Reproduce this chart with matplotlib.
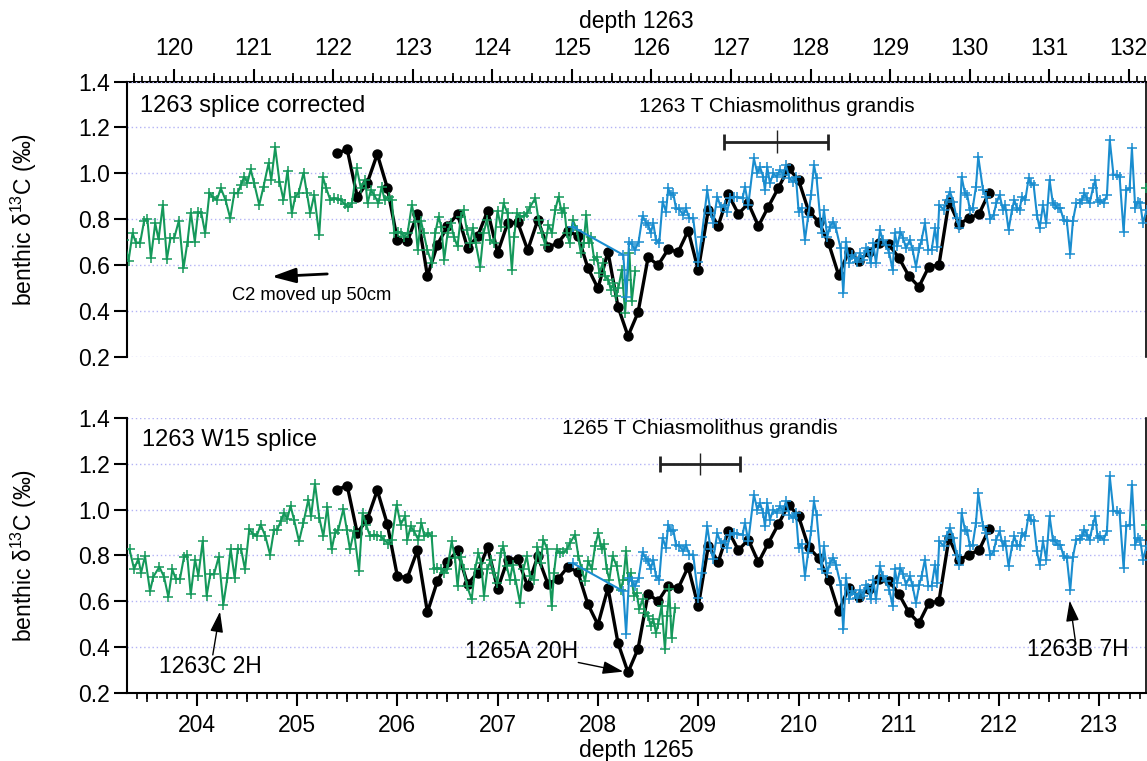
import matplotlib
matplotlib.use("Agg")
import matplotlib.pyplot as plt
from matplotlib.ticker import MultipleLocator, FixedLocator, NullFormatter, FormatStrFormatter

plt.rcParams['font.family'] = ['Liberation Sans', 'DejaVu Sans']
plt.rcParams['mathtext.fontset'] = 'custom'
plt.rcParams['mathtext.rm'] = 'Liberation Sans'
plt.rcParams['mathtext.it'] = 'Liberation Sans:italic'

# ---- data (x in depth 1265, as on the bottom axis) ----
# Site 1265 benthic d13C (black circles)
black_depth = [205.4, 205.5, 205.6, 205.7, 205.8, 205.9, 206.0, 206.1, 206.2, 206.3,
               206.4, 206.5, 206.6, 206.7, 206.8, 206.9, 207.0, 207.1, 207.2, 207.3,
               207.4, 207.5, 207.6, 207.7, 207.8, 207.9, 208.0, 208.1, 208.2, 208.3,
               208.4, 208.5, 208.6, 208.7, 208.8, 208.9, 209.0, 209.1, 209.2, 209.3,
               209.4, 209.5, 209.6, 209.7, 209.8, 209.9, 210.0, 210.1, 210.2, 210.3,
               210.4, 210.5, 210.6, 210.7, 210.8, 210.9, 211.0, 211.1, 211.2, 211.3,
               211.4, 211.5, 211.6, 211.7, 211.8, 211.9]
black_d13c = [1.087, 1.105, 0.898, 0.958, 1.084, 0.937, 0.710, 0.703, 0.822, 0.552,
              0.689, 0.770, 0.822, 0.675, 0.725, 0.836, 0.654, 0.782, 0.786, 0.665,
              0.796, 0.677, 0.696, 0.750, 0.727, 0.587, 0.498, 0.658, 0.418, 0.290,
              0.393, 0.633, 0.600, 0.668, 0.657, 0.750, 0.578, 0.840, 0.772, 0.908,
              0.823, 0.869, 0.770, 0.855, 0.937, 1.022, 0.971, 0.836, 0.789, 0.695,
              0.556, 0.658, 0.619, 0.655, 0.697, 0.690, 0.632, 0.552, 0.505, 0.593,
              0.600, 0.876, 0.779, 0.804, 0.823, 0.916]

# Site 1263 core C2 (green), W15 splice position
green_depth = [203.330, 203.375, 203.418, 203.445, 203.484, 203.534, 203.567, 203.627, 203.674, 203.717,
               203.757, 203.790, 203.833, 203.873, 203.905, 203.940, 203.983, 204.016, 204.059, 204.099,
               204.135, 204.172, 204.219, 204.265, 204.305, 204.338, 204.378, 204.410, 204.443, 204.481,
               204.524, 204.558, 204.598, 204.637, 204.684, 204.731, 204.771, 204.804, 204.837, 204.870,
               204.903, 204.935, 204.970, 205.020, 205.063, 205.113, 205.140, 205.179, 205.222, 205.262,
               205.302, 205.345, 205.379, 205.412, 205.462, 205.495, 205.528, 205.568, 205.618, 205.654,
               205.688, 205.728, 205.767, 205.801, 205.834, 205.871, 205.910, 205.944, 205.993, 206.033,
               206.077, 206.100, 206.133, 206.166, 206.209, 206.240, 206.270, 206.309, 206.342, 206.366,
               206.399, 206.432, 206.465, 206.499, 206.542, 206.575, 206.600, 206.632, 206.660, 206.695,
               206.741, 206.775, 206.808, 206.835, 206.864, 206.898, 206.931, 206.960, 206.997, 207.030,
               207.057, 207.090, 207.123, 207.150, 207.178, 207.223, 207.256, 207.290, 207.323, 207.363,
               207.396, 207.429, 207.456, 207.496, 207.539, 207.562, 207.589, 207.622, 207.655, 207.690,
               207.722, 207.772, 207.805, 207.838, 207.871, 207.904, 207.938, 207.971, 208.004, 208.037,
               208.061, 208.087, 208.114, 208.147, 208.187, 208.227, 208.254, 208.280, 208.303, 208.327,
               208.360, 208.386, 208.412, 208.445, 208.469, 208.502, 208.525, 208.552, 208.578, 208.601,
               208.635, 208.668, 208.690, 208.711, 208.734, 208.768]
green_d13c = [0.826, 0.741, 0.785, 0.724, 0.797, 0.644, 0.707, 0.750, 0.707, 0.619,
              0.739, 0.698, 0.698, 0.794, 0.800, 0.630, 0.782, 0.712, 0.862, 0.625,
              0.717, 0.717, 0.794, 0.586, 0.702, 0.829, 0.702, 0.830, 0.826, 0.739,
              0.916, 0.895, 0.884, 0.935, 0.884, 0.804, 0.913, 0.913, 0.949, 0.985,
              0.959, 1.017, 0.956, 0.862, 0.942, 1.044, 0.971, 1.113, 0.964, 0.884,
              1.012, 0.826, 0.898, 0.913, 1.003, 0.913, 0.826, 0.906, 0.731, 0.985,
              0.935, 0.884, 0.891, 0.887, 0.884, 0.866, 0.852, 0.869, 1.022, 0.935,
              0.971, 0.869, 0.927, 0.906, 0.869, 0.942, 0.884, 0.898, 0.884, 0.739,
              0.746, 0.741, 0.724, 0.739, 0.862, 0.789, 0.666, 0.794, 0.739, 0.666,
              0.608, 0.739, 0.811, 0.768, 0.623, 0.739, 0.782, 0.724, 0.681, 0.811,
              0.840, 0.753, 0.695, 0.760, 0.695, 0.593, 0.739, 0.797, 0.710, 0.695,
              0.837, 0.768, 0.869, 0.826, 0.579, 0.724, 0.826, 0.811, 0.814, 0.826,
              0.855, 0.891, 0.797, 0.739, 0.688, 0.776, 0.739, 0.840, 0.898, 0.826,
              0.848, 0.739, 0.695, 0.797, 0.753, 0.651, 0.695, 0.818, 0.695, 0.724,
              0.623, 0.637, 0.565, 0.608, 0.550, 0.536, 0.492, 0.521, 0.463, 0.500,
              0.579, 0.390, 0.535, 0.652, 0.441, 0.572]
green_edge_depth = [213.46]
green_edge_d13c = [0.935]
c2_shift = 0.397  # 50 cm (depth 1263) expressed on the 1265 scale

# Site 1263 core B (blue)
blue_depth = [207.755, 208.253, 208.281, 208.310, 208.340, 208.369, 208.405, 208.445, 208.479, 208.502,
              208.525, 208.552, 208.578, 208.611, 208.645, 208.678, 208.701, 208.724, 208.751, 208.778,
              208.811, 208.851, 208.877, 208.911, 208.950, 209.000, 209.034, 209.090, 209.123, 209.150,
              209.190, 209.223, 209.266, 209.289, 209.316, 209.356, 209.389, 209.442, 209.466, 209.499,
              209.555, 209.589, 209.615, 209.648, 209.665, 209.688, 209.715, 209.748, 209.781, 209.815,
              209.848, 209.874, 209.908, 209.941, 209.974, 210.001, 210.031, 210.064, 210.095, 210.125,
              210.154, 210.180, 210.230, 210.253, 210.287, 210.313, 210.346, 210.373, 210.419, 210.446,
              210.473, 210.506, 210.529, 210.562, 210.586, 210.612, 210.645, 210.672, 210.695, 210.719,
              210.745, 210.772, 210.812, 210.838, 210.871, 210.905, 210.938, 210.961, 210.984, 211.015,
              211.044, 211.071, 211.111, 211.137, 211.171, 211.204, 211.227, 211.260, 211.294, 211.327,
              211.360, 211.383, 211.403, 211.450, 211.476, 211.510, 211.543, 211.576, 211.603, 211.626,
              211.659, 211.682, 211.709, 211.736, 211.769, 211.792, 211.839, 211.872, 211.912, 211.945,
              211.971, 212.005, 212.038, 212.061, 212.094, 212.128, 212.151, 212.178, 212.204, 212.227,
              212.261, 212.294, 212.317, 212.344, 212.377, 212.404, 212.437, 212.470, 212.503, 212.536,
              212.560, 212.583, 212.610, 212.643, 212.675, 212.709, 212.736, 212.769, 212.802, 212.826,
              212.849, 212.875, 212.902, 212.935, 212.959, 212.982, 213.008, 213.042, 213.075, 213.103,
              213.140, 213.175, 213.201, 213.241, 213.268, 213.301, 213.324, 213.357, 213.381, 213.407,
              213.434, 213.470]
blue_d13c = [0.765, 0.644, 0.459, 0.700, 0.690, 0.665, 0.700, 0.814, 0.785, 0.775,
             0.739, 0.782, 0.710, 0.695, 0.877, 0.833, 0.935, 0.906, 0.913, 0.847,
             0.843, 0.818, 0.847, 0.804, 0.804, 0.615, 0.724, 0.927, 0.829, 0.785,
             0.898, 0.855, 0.862, 0.833, 0.891, 0.898, 0.895, 0.891, 0.942, 0.862,
             1.065, 1.000, 1.029, 0.985, 0.927, 1.029, 0.956, 1.000, 0.985, 1.015,
             0.993, 1.036, 0.978, 0.964, 0.985, 0.833, 0.850, 0.710, 0.811, 0.906,
             1.036, 0.978, 0.739, 0.840, 0.724, 0.768, 0.789, 0.760, 0.673, 0.477,
             0.702, 0.608, 0.644, 0.630, 0.615, 0.651, 0.622, 0.673, 0.659, 0.608,
             0.695, 0.608, 0.753, 0.710, 0.688, 0.651, 0.579, 0.739, 0.681, 0.745,
             0.717, 0.673, 0.710, 0.666, 0.593, 0.673, 0.710, 0.782, 0.666, 0.666,
             0.760, 0.680, 0.862, 0.840, 0.884, 0.920, 0.877, 0.804, 0.760, 0.985,
             0.913, 0.906, 0.840, 0.847, 0.942, 1.073, 0.927, 0.898, 0.800, 0.818,
             0.869, 0.906, 0.840, 0.862, 0.753, 0.840, 0.884, 0.847, 0.840, 0.898,
             0.884, 0.978, 0.956, 0.949, 0.818, 0.760, 0.862, 0.782, 0.971, 0.869,
             0.862, 0.847, 0.847, 0.797, 0.790, 0.649, 0.794, 0.869, 0.872, 0.884,
             0.913, 0.891, 0.869, 0.935, 0.971, 0.877, 0.884, 0.869, 0.906, 1.145,
             0.993, 0.993, 0.985, 0.746, 0.927, 0.935, 1.109, 0.847, 0.877, 0.869,
             0.782, 0.840]

# Chiasmolithus grandis datums: [left, centre, right] and level
datum_1263 = [209.26, 209.785, 210.297]
datum_1263_y = 1.138
datum_1265 = [208.616, 209.02, 209.42]
datum_1265_y = 1.199

# depth 1263 <-> depth 1265 mapping of the top axis
def to1263(d):
    return 120 + (d - 203.775) * 1.2608

def to1265(d):
    return 203.775 + (d - 120) / 1.2608

GREEN = '#14985a'
BLUE = '#1a8dcf'
GRID = '#b3b3f5'
FS = 16.5

fig = plt.figure(figsize=(11.47, 7.61), dpi=100)
ax_top = fig.add_axes([0.1111, 0.5313, 0.888, 0.3614])
ax_bot = fig.add_axes([0.1111, 0.0894, 0.888, 0.3614])


def draw_series(ax, green_offset):
    ax.plot(black_depth, black_d13c, '-o', color='k', lw=2.4, ms=6.5, zorder=3)
    ax.plot([d - green_offset for d in green_depth], green_d13c, '-+', color=GREEN,
            lw=1.5, ms=7, mew=1.1, zorder=4)
    ax.plot(green_edge_depth, green_edge_d13c, '+', color=GREEN, ms=7, mew=1.1, zorder=4)
    ax.plot(blue_depth, blue_d13c, '-+', color=BLUE, lw=1.5, ms=7, mew=1.1, zorder=5)


def style(ax):
    ax.set_xlim(203.309, 213.464)
    ax.set_ylim(0.2, 1.4)
    ax.yaxis.set_major_locator(MultipleLocator(0.2))
    ax.yaxis.set_major_formatter(FormatStrFormatter('%.1f'))
    ax.tick_params(axis='y', direction='out', length=9.5, width=1.5, labelsize=FS, pad=3)
    ax.yaxis.grid(True, linestyle=(0, (1, 2)), color=GRID, lw=1)
    ax.set_axisbelow(True)
    for s in ['left', 'right', 'top', 'bottom']:
        ax.spines[s].set_linewidth(1.5)
    ax.spines['right'].set_linewidth(1.2)
    ax.set_ylabel('benthic δ$^{13}$C (‰)', fontsize=FS)
    ax.yaxis.set_label_coords(-0.087, 0.5)


for ax, off in [(ax_top, c2_shift), (ax_bot, 0.0)]:
    draw_series(ax, off)
    style(ax)

# ---- top panel: depth 1263 axis on top ----
ax_top.spines['bottom'].set_visible(False)
ax_top.spines['top'].set_visible(False)
ax_top.tick_params(axis='x', which='both', bottom=False, labelbottom=False)
sec = ax_top.secondary_xaxis('top', functions=(to1263, to1265))
sec.xaxis.set_major_locator(MultipleLocator(1))
sec.xaxis.set_minor_locator(MultipleLocator(0.1))
sec.xaxis.set_major_formatter(FormatStrFormatter('%d'))
sec.tick_params(which='major', direction='out', length=9.5, width=1.5, labelsize=FS, pad=6)
sec.tick_params(which='minor', direction='out', length=4.5, width=1.2)
sec.spines['top'].set_linewidth(1.5)
sec_mid = ax_top.secondary_xaxis('top', functions=(to1263, to1265))
sec_mid.xaxis.set_major_locator(FixedLocator([v + 0.5 for v in range(119, 133)]))
sec_mid.xaxis.set_major_formatter(NullFormatter())
sec_mid.tick_params(direction='out', length=6.5, width=1.2)
sec_mid.spines['top'].set_visible(False)
fig.text(0.5551, 0.9715, 'depth 1263', ha='center', va='center', fontsize=FS)

# ---- bottom panel: depth 1265 axis ----
ax_bot.spines['top'].set_visible(False)
ax_bot.xaxis.set_major_locator(MultipleLocator(1))
ax_bot.xaxis.set_minor_locator(MultipleLocator(0.1))
ax_bot.xaxis.set_major_formatter(FormatStrFormatter('%d'))
ax_bot.tick_params(axis='x', which='major', direction='out', length=9.5, width=1.5,
                   labelsize=FS, pad=6)
ax_bot.tick_params(axis='x', which='minor', direction='out', length=4.5, width=1.2)
bot_mid = ax_bot.secondary_xaxis('bottom')
bot_mid.xaxis.set_major_locator(FixedLocator([v + 0.5 for v in range(203, 214)]))
bot_mid.xaxis.set_major_formatter(NullFormatter())
bot_mid.tick_params(direction='out', length=6.5, width=1.2)
bot_mid.spines['bottom'].set_visible(False)
fig.text(0.5551, 1 - 750 / 761, 'depth 1265', ha='center', va='center', fontsize=FS)

# ---- texts and annotations ----
ax_top.text(0.012, 0.912, '1263 splice corrected', transform=ax_top.transAxes,
            ha='left', va='center', fontsize=17)
ax_bot.text(0.014, 0.92, '1263 W15 splice', transform=ax_bot.transAxes,
            ha='left', va='center', fontsize=17)

ax_top.text(datum_1263[1], 1.291, '1263 T Chiasmolithus grandis', ha='center', va='center',
            fontsize=15)
ax_bot.text(datum_1265[1], 1.355, '1265 T Chiasmolithus grandis', ha='center', va='center',
            fontsize=15)
for ax, (l, c, r), y in [(ax_top, datum_1263, datum_1263_y), (ax_bot, datum_1265, datum_1265_y)]:
    ax.errorbar([c], [y], xerr=[[c - l], [r - c]], fmt='none', ecolor='#222222',
                elinewidth=2, capsize=6, capthick=2, zorder=6)
    ax.errorbar([c], [y], yerr=0.05, fmt='none', ecolor='#222222', elinewidth=1,
                capsize=0, zorder=6)

ax_top.annotate('', xy=(204.748, 0.549), xytext=(205.301, 0.561),
                arrowprops=dict(arrowstyle='-|>,head_length=0.8,head_width=0.25',
                                color='k', lw=2, mutation_scale=18, shrinkA=0, shrinkB=0))
ax_top.text(205.148, 0.469, 'C2 moved up 50cm', ha='center', va='center', fontsize=13.2)

arrow = dict(arrowstyle='-|>,head_length=0.7,head_width=0.22', color='k', lw=1,
             mutation_scale=18, shrinkA=0, shrinkB=0)
ax_bot.annotate('', xy=(204.232, 0.555), xytext=(204.16, 0.366), arrowprops=arrow)
ax_bot.text(204.132, 0.314, '1263C 2H', ha='center', va='center', fontsize=FS)
ax_bot.annotate('', xy=(208.253, 0.293), xytext=(207.804, 0.333), arrowprops=arrow)
ax_bot.text(207.243, 0.380, '1265A 20H', ha='center', va='center', fontsize=FS)
ax_bot.annotate('', xy=(212.703, 0.603), xytext=(212.759, 0.431), arrowprops=arrow)
ax_bot.text(212.78, 0.388, '1263B 7H', ha='center', va='center', fontsize=FS)

fig.savefig('out.png', dpi=100)
